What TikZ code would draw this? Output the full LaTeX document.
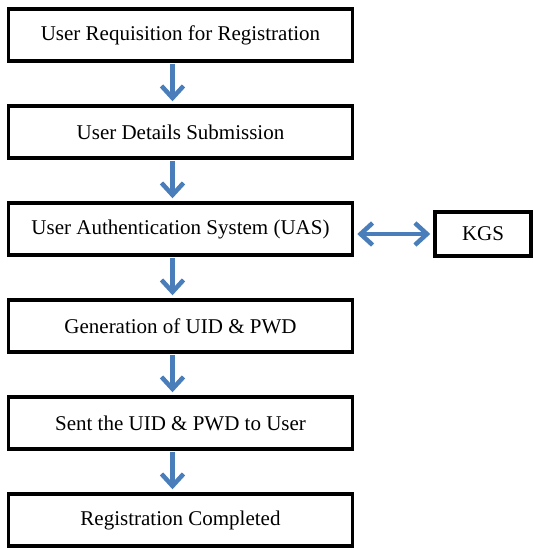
\documentclass[tikz,border=0pt]{standalone}
\usepackage{fontspec}
\setmainfont{Liberation Serif}
\usepackage{xcolor}
\usepackage{tikz}
\usetikzlibrary{positioning,arrows.meta}
\definecolor{arrowblue}{HTML}{4A7EBB}

\begin{document}
\begin{tikzpicture}[x=1pt, y=-1pt,
		stepbox/.style={rectangle, draw=black, fill=white, line width=3.5pt, minimum width=344pt, minimum height=52pt, inner sep=0pt, font=\fontsize{21}{24}\selectfont},
		flow/.style={draw=arrowblue, line width=4.5pt, shorten <=1.5pt, shorten >=3pt},
		>={Straight Barb[length=12pt,width=22pt]},
		node distance=41.5pt,
	]
		\useasboundingbox (0,0) rectangle (533,549);

		% nodes
		\node[stepbox] (request) at (180.5,35)	{User Requisition for Registration};
		\node[stepbox] (details)	[below=of request]	{User Details Submission};
		\node[stepbox] (uas)		[below=of details]	{User Authentication System (UAS)};
		\node[stepbox] (generate)	[below=of uas]		{Generation of UID \& PWD};
		\node[stepbox] (send)		[below=of generate]	{Sent the UID \& PWD to User};
		\node[stepbox] (done)		[below=of send]		{Registration Completed};
		\node[stepbox, minimum width=96pt, minimum height=44pt] (kgs) [right=79pt of uas, yshift=-5pt] {KGS};

		% lines
		\draw[flow, ->] ([xshift=-8pt]request.south) -- ([xshift=-8pt]details.north);
		\draw[flow, ->] ([xshift=-8pt]details.south) -- ([xshift=-8pt]uas.north);
		\draw[flow, ->] ([xshift=-8pt]uas.south) -- ([xshift=-8pt]generate.north);
		\draw[flow, ->] ([xshift=-8pt]generate.south) -- ([xshift=-8pt]send.north);
		\draw[flow, ->] ([xshift=-8pt]send.south) -- ([xshift=-8pt]done.north);
		\draw[flow, <->, shorten <=3pt] ([yshift=-5pt]uas.east) -- (kgs.west);
	\end{tikzpicture}
\end{document}
